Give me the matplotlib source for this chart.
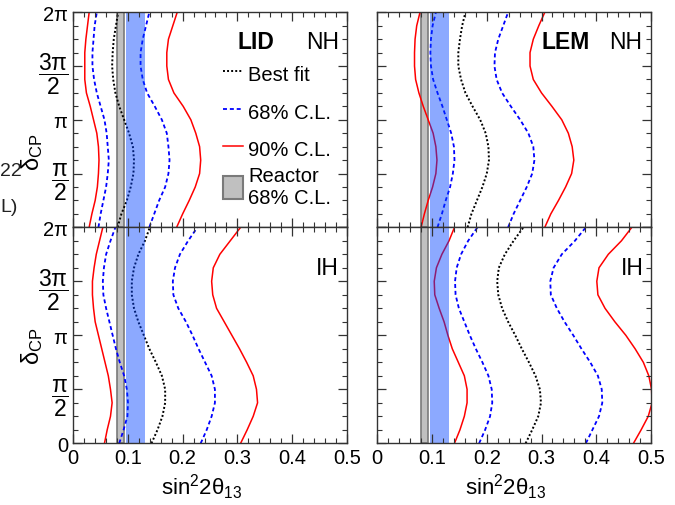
import numpy as np
import matplotlib
matplotlib.use('Agg')
import matplotlib.pyplot as plt
from matplotlib.ticker import MultipleLocator, FixedLocator
from matplotlib.lines import Line2D
from matplotlib.patches import Patch

plt.rcParams['font.family'] = ['Liberation Sans', 'DejaVu Sans']
plt.rcParams['mathtext.fontset'] = 'custom'
plt.rcParams['mathtext.rm'] = 'Liberation Sans'
plt.rcParams['mathtext.it'] = 'Liberation Sans'
plt.rcParams['mathtext.bf'] = 'Liberation Sans:bold'

# delta_CP sampling points, in units of pi
delta_pi = [0, 0.125, 0.25, 0.375, 0.5, 0.625, 0.75, 0.875, 1.0,
            1.125, 1.25, 1.375, 1.5, 1.625, 1.75, 1.875, 2.0]

# sin^2 2theta13 bands
reactor_band = (0.080, 0.0925)
blue_band = (0.0955, 0.1315)

# LID, normal hierarchy
lid_nh_red_lo = [0.029, 0.034, 0.040, 0.044, 0.046, 0.047, 0.046, 0.043, 0.037,
                 0.031, 0.024, 0.021, 0.021, 0.021, 0.023, 0.026, 0.029]
lid_nh_blue_lo = [0.046, 0.050, 0.055, 0.060, 0.063, 0.065, 0.063, 0.061, 0.057,
                  0.050, 0.043, 0.038, 0.035, 0.035, 0.037, 0.039, 0.043]
lid_nh_best = [0.081, 0.088, 0.098, 0.105, 0.110, 0.111, 0.109, 0.102, 0.093,
               0.084, 0.077, 0.073, 0.071, 0.072, 0.074, 0.078, 0.082]
lid_nh_blue_hi = [0.139, 0.148, 0.157, 0.168, 0.174, 0.176, 0.174, 0.171, 0.162,
                  0.149, 0.135, 0.127, 0.123, 0.123, 0.127, 0.133, 0.139]
lid_nh_red_hi = [0.189, 0.200, 0.212, 0.223, 0.231, 0.233, 0.231, 0.224, 0.215,
                 0.201, 0.184, 0.174, 0.171, 0.171, 0.174, 0.182, 0.190]

# LEM, normal hierarchy
lem_nh_red_lo = [0.080, 0.086, 0.093, 0.101, 0.107, 0.109, 0.107, 0.102, 0.093,
                 0.084, 0.076, 0.070, 0.068, 0.068, 0.069, 0.072, 0.078]
lem_nh_blue_lo = [0.110, 0.118, 0.125, 0.133, 0.138, 0.141, 0.140, 0.135, 0.127,
                  0.119, 0.110, 0.102, 0.098, 0.097, 0.098, 0.101, 0.107]
lem_nh_best = [0.165, 0.172, 0.182, 0.192, 0.200, 0.204, 0.203, 0.198, 0.188,
               0.174, 0.161, 0.153, 0.148, 0.148, 0.151, 0.155, 0.161]
lem_nh_blue_hi = [0.239, 0.249, 0.261, 0.273, 0.283, 0.287, 0.285, 0.276, 0.261,
                  0.244, 0.228, 0.218, 0.214, 0.215, 0.221, 0.230, 0.239]
lem_nh_red_hi = [0.306, 0.317, 0.331, 0.344, 0.355, 0.359, 0.356, 0.349, 0.337,
                 0.319, 0.300, 0.285, 0.279, 0.279, 0.285, 0.295, 0.306]

# LID, inverted hierarchy
lid_ih_red_lo = [0.057, 0.062, 0.068, 0.071, 0.068, 0.064, 0.058, 0.052, 0.046,
                 0.040, 0.037, 0.035, 0.035, 0.038, 0.042, 0.048, 0.054]
lid_ih_blue_lo = [0.084, 0.092, 0.099, 0.100, 0.098, 0.093, 0.085, 0.078, 0.072,
                  0.066, 0.060, 0.055, 0.054, 0.056, 0.060, 0.068, 0.077]
lid_ih_best = [0.143, 0.154, 0.163, 0.168, 0.168, 0.162, 0.151, 0.139, 0.129,
               0.119, 0.111, 0.107, 0.107, 0.111, 0.119, 0.131, 0.140]
lid_ih_blue_hi = [0.233, 0.244, 0.253, 0.259, 0.259, 0.253, 0.241, 0.229, 0.218,
                  0.206, 0.192, 0.183, 0.182, 0.186, 0.195, 0.210, 0.227]
lid_ih_red_hi = [0.306, 0.318, 0.329, 0.337, 0.335, 0.329, 0.317, 0.304, 0.290,
                 0.276, 0.262, 0.255, 0.253, 0.256, 0.268, 0.287, 0.306]

# LEM, inverted hierarchy
lem_ih_red_lo = [0.141, 0.151, 0.159, 0.164, 0.164, 0.159, 0.148, 0.137, 0.129,
                 0.122, 0.113, 0.105, 0.104, 0.108, 0.118, 0.131, 0.141]
lem_ih_blue_lo = [0.186, 0.197, 0.206, 0.210, 0.209, 0.203, 0.192, 0.180, 0.169,
                  0.159, 0.149, 0.143, 0.142, 0.145, 0.153, 0.166, 0.183]
lem_ih_best = [0.271, 0.283, 0.294, 0.299, 0.297, 0.289, 0.277, 0.264, 0.252,
               0.239, 0.228, 0.221, 0.219, 0.222, 0.233, 0.249, 0.267]
lem_ih_blue_hi = [0.381, 0.393, 0.405, 0.411, 0.410, 0.403, 0.389, 0.373, 0.358,
                  0.342, 0.328, 0.317, 0.316, 0.322, 0.337, 0.361, 0.381]
lem_ih_red_hi = [0.468, 0.482, 0.495, 0.502, 0.501, 0.496, 0.486, 0.471, 0.454,
                 0.434, 0.416, 0.403, 0.401, 0.405, 0.422, 0.446, 0.465]

xticks = [0, 0.1, 0.2, 0.3, 0.4, 0.5]
xticklabels = ['0', '0.1', '0.2', '0.3', '0.4', '0.5']
yticks_pi = [0, 0.5, 1.0, 1.5, 2.0]
yticklabels = ['0', r'$\dfrac{\pi}{2}$', r'$\pi$', r'$\dfrac{3\pi}{2}$', r'$2\pi$']

delta = np.array(delta_pi) * np.pi

W, H = 675, 506
fig = plt.figure(figsize=(W / 100, H / 100), dpi=100)

def px_rect(x0, y0, x1, y1):
    return [x0 / W, 1 - y1 / H, (x1 - x0) / W, (y1 - y0) / H]

# (axes rect, detector label + x, hierarchy label x/y, curves, hierarchy)
panels = [
    (px_rect(73.3, 13.3, 346.7, 228.3), ('LID', 0.667), (0.911, 0.865),
     [lid_nh_red_lo, lid_nh_blue_lo, lid_nh_best, lid_nh_blue_hi, lid_nh_red_hi], 'NH'),
    (px_rect(377.3, 13.3, 651, 228.3), ('LEM', 0.689), (0.909, 0.865),
     [lem_nh_red_lo, lem_nh_blue_lo, lem_nh_best, lem_nh_blue_hi, lem_nh_red_hi], 'NH'),
    (px_rect(73.3, 228.3, 346.7, 444.3), None, (0.93, 0.813),
     [lid_ih_red_lo, lid_ih_blue_lo, lid_ih_best, lid_ih_blue_hi, lid_ih_red_hi], 'IH'),
    (px_rect(377.3, 228.3, 651, 444.3), None, (0.93, 0.813),
     [lem_ih_red_lo, lem_ih_blue_lo, lem_ih_best, lem_ih_blue_hi, lem_ih_red_hi], 'IH'),
]

red_style = dict(color='#ff0000', lw=1.1, ls='-')
blue_style = dict(color='#0000ff', lw=1.3, ls=(0, (2.2, 1.6)))
black_style = dict(color='black', lw=1.4, ls=(0, (1, 1.1)))

leg_kw = dict(loc='upper left', frameon=False, fontsize=14.5, handlelength=1.0,
              handleheight=1.35, handletextpad=0.25, borderpad=0, borderaxespad=0)

for i, (rect, det, hpos, curves, hier) in enumerate(panels):
    ax = fig.add_axes(rect)
    ax.set_xlim(0, 0.5)
    ax.set_ylim(0, 2 * np.pi)
    ax.set_axisbelow(False)

    ax.axvspan(reactor_band[0], reactor_band[1], facecolor='#c0c0c0',
               edgecolor='#7a7a7a', lw=1.2, zorder=1)
    styles = [red_style, blue_style, black_style, blue_style, red_style]
    for xs, st in zip(curves, styles):
        ax.plot(xs, delta, zorder=2, **st)
    ax.axvspan(blue_band[0], blue_band[1], facecolor='#0040ff', alpha=0.45,
               lw=0, zorder=2.2)

    ax.xaxis.set_major_locator(FixedLocator(xticks))
    ax.xaxis.set_minor_locator(MultipleLocator(0.02))
    ax.yaxis.set_major_locator(FixedLocator([v * np.pi for v in yticks_pi]))
    ax.yaxis.set_minor_locator(MultipleLocator(np.pi / 8))
    ax.tick_params(which='both', direction='in', top=True, right=True,
                   color='#333333', labelsize=14.5)
    ax.tick_params(which='major', length=6.5, width=0.9)
    ax.tick_params(which='minor', length=3.5, width=0.8)
    for sp in ax.spines.values():
        sp.set_linewidth(1.0)
        sp.set_color('#333333')

    if i % 2 == 0:
        labels = list(yticklabels)
        if i == 0:
            labels[0] = ''
        ax.set_yticklabels(labels)
        for lab in ax.get_yticklabels():
            if 'frac' in lab.get_text():
                lab.set_fontsize(16.5)
    else:
        ax.set_yticklabels([])
    if i >= 2:
        ax.set_xticklabels(xticklabels)
        ax.set_xlabel(r'sin$^{2}$2$\theta_{13}$', fontsize=16, x=0.47, labelpad=3)
    else:
        ax.set_xticklabels([])

    if det is not None:
        ax.text(det[1], 0.865, det[0], transform=ax.transAxes, fontsize=16.5,
                fontweight='bold', ha='center', va='center')
    ax.text(hpos[0], hpos[1], hier, transform=ax.transAxes,
            fontsize=16.5, ha='center', va='center')

    if i == 0:
        lines = [Line2D([], [], **black_style), Line2D([], [], **blue_style),
                 Line2D([], [], **red_style)]
        leg1 = ax.legend(lines, ['Best fit', '68% C.L.', '90% C.L.'],
                         bbox_to_anchor=(0.5465, 0.769), labelspacing=0.75,
                         **leg_kw)
        ax.add_artist(leg1)
        box = Patch(facecolor='#c0c0c0', edgecolor='#7a7a7a', lw=1.5)
        ax.legend([box], ['Reactor\n68% C.L.'],
                  bbox_to_anchor=(0.5465, 0.283), **leg_kw)

# y axis titles
for yc in [152.5, 346.5]:
    fig.text(31.7 / W, 1 - yc / H, r'$\delta_{\rm CP}$', rotation=90,
             fontsize=17, ha='center', va='center')

# fragments of neighbouring text at the page edge
fig.text(0 / W, 1 - 172 / H, '22', fontsize=14, ha='left', va='center',
         color='#222222')
fig.text(0 / W, 1 - 207 / H, 'L)', fontsize=14, ha='left', va='center',
         color='#222222')

fig.savefig('out.png', dpi=100)
